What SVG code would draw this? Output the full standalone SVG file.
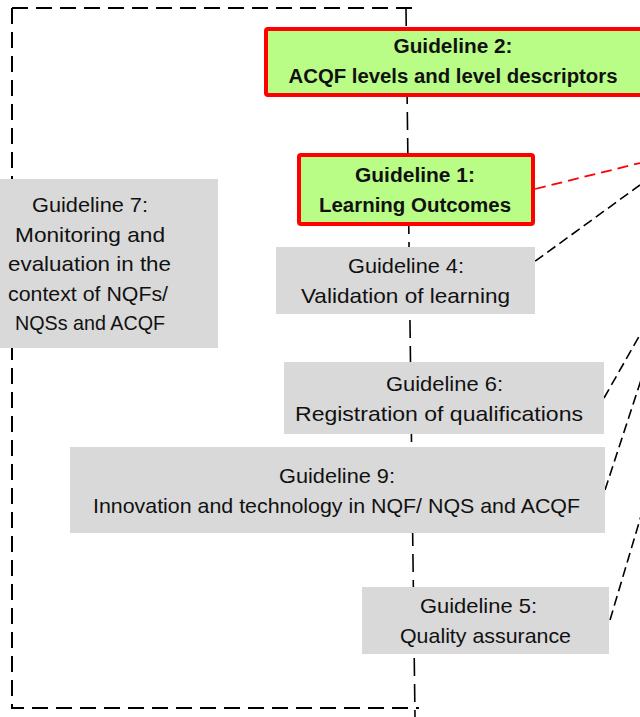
<svg xmlns="http://www.w3.org/2000/svg" width="640" height="717" viewBox="0 0 640 717">
<style>
.frame{fill:none;stroke:#000;stroke-width:2;stroke-dasharray:16 8}
.axis{fill:none;stroke:#000;stroke-width:1.6;stroke-dasharray:18 8}
.link{fill:none;stroke:#000;stroke-width:1.6;stroke-dasharray:10 5}
.redlink{fill:none;stroke:#ff0000;stroke-width:1.8;stroke-dasharray:11 6}
.key{fill:#b9fd87;stroke:#ff0000;stroke-width:4}
.grey{fill:#d9d9d9;stroke:none}
text{font-family:"Liberation Sans",Arial,sans-serif;text-anchor:middle;fill:#111}
.b{font-weight:bold;font-size:20px}
.r{font-size:21px}
</style>
<g id="connectors">
<path class="frame" d="M12,8 H420 M12,8 V708 H419"/>
<path class="axis" d="M406,8 L415,717"/>
<path class="redlink" d="M535,189 L640,163"/>
<path class="link" d="M523,270 L640,185"/>
<path class="link" d="M604,398 L641,333"/>
<path class="link" d="M605,490 L641,380"/>
<path class="link" d="M610,620 L641,516"/>
</g>
<g id="g2">
<rect class="key" x="266" y="29" width="377" height="66" rx="2"/>
<text class="b" x="453" y="53" textLength="119" lengthAdjust="spacingAndGlyphs">Guideline 2:</text>
<text class="b" x="453" y="83" textLength="329" lengthAdjust="spacingAndGlyphs">ACQF levels and level descriptors</text>
</g>
<g id="g1">
<rect class="key" x="299" y="155" width="234" height="69" rx="2"/>
<text class="b" x="415" y="182" textLength="120" lengthAdjust="spacingAndGlyphs">Guideline 1:</text>
<text class="b" x="415" y="212" textLength="192" lengthAdjust="spacingAndGlyphs">Learning Outcomes</text>
</g>
<g id="g7">
<rect class="grey" x="-40" y="179" width="258" height="169"/>
<text class="r" x="90" y="212" textLength="116" lengthAdjust="spacingAndGlyphs">Guideline 7:</text>
<text class="r" x="90" y="241.5" textLength="150" lengthAdjust="spacingAndGlyphs">Monitoring and</text>
<text class="r" x="89.5" y="271" textLength="163" lengthAdjust="spacingAndGlyphs">evaluation in the</text>
<text class="r" x="88" y="300.5" textLength="160" lengthAdjust="spacingAndGlyphs">context of NQFs/</text>
<text class="r" x="90" y="330" textLength="150" lengthAdjust="spacingAndGlyphs">NQSs and ACQF</text>
</g>
<g id="g4">
<rect class="grey" x="276" y="247" width="259" height="67"/>
<text class="r" x="406" y="273" textLength="116" lengthAdjust="spacingAndGlyphs">Guideline 4:</text>
<text class="r" x="405.5" y="303" textLength="209" lengthAdjust="spacingAndGlyphs">Validation of learning</text>
</g>
<g id="g6">
<rect class="grey" x="284" y="362" width="320" height="72"/>
<text class="r" x="444.5" y="390.5" textLength="117" lengthAdjust="spacingAndGlyphs">Guideline 6:</text>
<text class="r" x="439" y="420.5" textLength="288" lengthAdjust="spacingAndGlyphs">Registration of qualifications</text>
</g>
<g id="g9">
<rect class="grey" x="70" y="447" width="535" height="86"/>
<text class="r" x="337" y="482.5" textLength="116" lengthAdjust="spacingAndGlyphs">Guideline 9:</text>
<text class="r" x="336.5" y="512.5" textLength="487" lengthAdjust="spacingAndGlyphs">Innovation and technology in NQF/ NQS and ACQF</text>
</g>
<g id="g5">
<rect class="grey" x="362" y="587" width="247" height="67"/>
<text class="r" x="478.5" y="613" textLength="117" lengthAdjust="spacingAndGlyphs">Guideline 5:</text>
<text class="r" x="485.5" y="643" textLength="171" lengthAdjust="spacingAndGlyphs">Quality assurance</text>
</g>
</svg>
